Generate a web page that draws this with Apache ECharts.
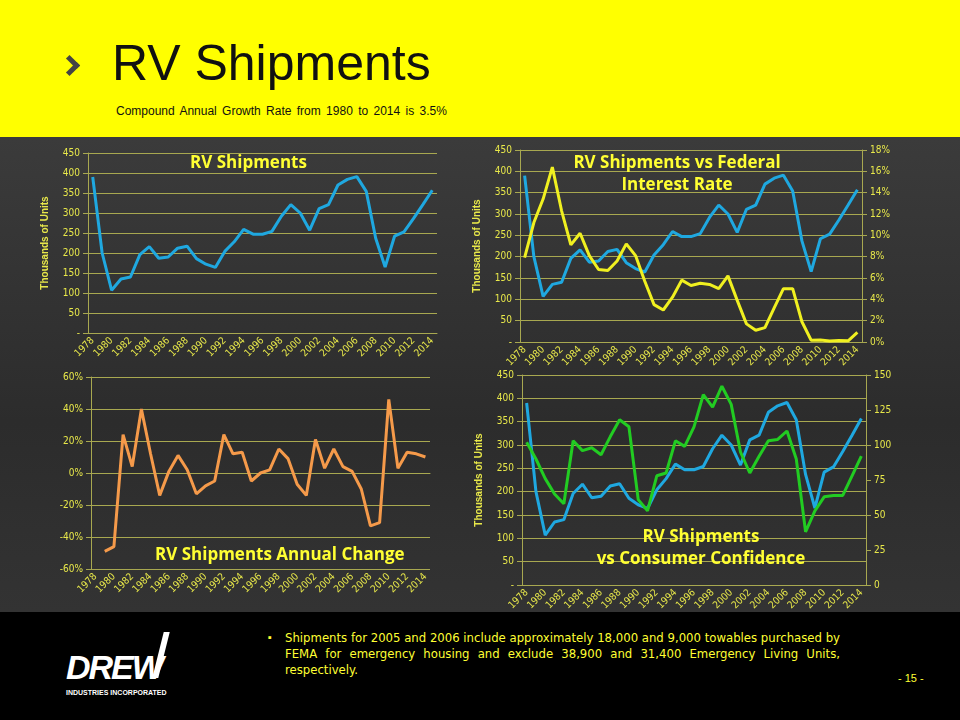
<!DOCTYPE html>
<html><head><meta charset="utf-8">
<script src="https://cdn.jsdelivr.net/npm/echarts@6/dist/echarts.min.js"></script>
<style>
body{margin:0;width:960px;height:720px;overflow:hidden;font-family:"Liberation Sans",Arial,sans-serif;background:#000}
#head{position:absolute;left:0;top:0;width:960px;height:137px;background:#ffff00}
#mid{position:absolute;left:0;top:137px;width:960px;height:475px;background:linear-gradient(#3b3b3b,#2c2c2c 60%,#333)}
#foot{position:absolute;left:0;top:612px;width:960px;height:108px;background:#000}
#chart{position:absolute;left:0;top:0;width:960px;height:720px}
</style></head><body>
<div id="head">
 <div style="position:absolute;left:62px;top:58px;width:10px;height:10px;border-right:5px solid #444;border-top:5px solid #444;transform:rotate(45deg)"></div>
 <div style="position:absolute;left:112px;top:34px;font-size:50px;color:#111">RV Shipments</div>
 <div style="position:absolute;left:116px;top:104px;font-size:12px;color:#111;word-spacing:2px">Compound Annual Growth Rate from 1980 to 2014 is 3.5%</div>
</div>
<div id="mid"></div>
<div id="foot">
 <div style="position:absolute;left:66px;top:36px;font-size:34px;color:#fff;font-weight:900;font-style:italic;letter-spacing:-2px">DREW</div>
 <div style="position:absolute;left:158px;top:20px;width:6px;height:46px;background:#fff;transform:skewX(-14deg)"></div>
 <div style="position:absolute;left:66px;top:77px;font-size:7px;color:#fff;font-weight:bold">INDUSTRIES INCORPORATED</div>
 <div style="position:absolute;left:268px;top:19px;font-size:11px;color:#ffff33">▪</div>
 <div style="position:absolute;left:285px;top:18px;width:555px;font-family:'Liberation Sans Narrow','DejaVu Sans Condensed',sans-serif;font-size:13px;line-height:16px;color:#ffff33;text-align:justify">Shipments for 2005 and 2006 include approximately 18,000 and 9,000 towables purchased by FEMA for emergency housing and exclude 38,900 and 31,400 Emergency Living Units, respectively.</div>
 <div style="position:absolute;left:898px;top:60px;font-size:11px;color:#ffff33">- 15 -</div>
</div>
<div id="chart"></div>
<script>
var years = [];
for (var y = 1978; y <= 2014; y++) years.push(String(y));
var shipments = [390,200,107,135,140,196,216,187,190,212,217,186,172,164,204,228,259,247,247,254,292,321,300,257,311,321,370,384,391,354,237,165,242,253,286,321,357];
var fedRate = [7.9,11.2,13.4,16.4,12.3,9.1,10.2,8.1,6.8,6.7,7.6,9.2,8.1,5.7,3.5,3.0,4.2,5.8,5.3,5.5,5.4,5.0,6.2,3.9,1.7,1.1,1.35,3.2,5.0,5.0,1.9,0.16,0.18,0.1,0.14,0.11,0.9];
var annualChange = [null,-49,-46,24,4,40,12,-14,1,11,2,-13,-8,-5,24,12,13,-5,0,2,15,9,-7,-14,21,3,15,4,1,-10,-33,-31,46,3,13,12,10];
var confidence = [102,90,76,65,58,103,96,98,93,106,118,113,61,53,78,80,103,99,113,136,127,142,129,95,80,92,103,104,110,90,38,53,63,64,64,78,92];

var Y = '#e8e84a', GL = '#a8a850';
var lbl = {color: Y, fontSize: 10, fontFamily: 'DejaVu Sans Condensed, Liberation Sans'};
var grids = [
  {left: 88, right: 960-437, top: 153, height: 180},
  {left: 520, right: 960-862, top: 150, height: 192},
  {left: 91, right: 960-430, top: 377, height: 192},
  {left: 522, right: 960-866, top: 375, height: 210}
];
function xAx(i){
  return {type:'category', gridIndex:i, data:years, boundaryGap:true,
    axisLine:{lineStyle:{color:GL}}, axisTick:{lineStyle:{color:GL}, interval:0},
    axisLabel:Object.assign({rotate:45, interval:1, margin:6}, lbl)};
}
function yAx(i, o){
  return Object.assign({type:'value', gridIndex:i,
    axisLine:{show:true, lineStyle:{color:GL}}, axisTick:{show:true, lineStyle:{color:GL}},
    splitLine:{lineStyle:{color:GL, width:1}}, axisLabel:Object.assign({}, lbl),
    nameTextStyle:{color:Y, fontWeight:'bold', fontSize:10}, nameLocation:'middle', nameGap:38}, o);
}
var shipAxis = function(i, name){
  return yAx(i, {min:0, max:450, interval:50, name:name,
    axisLabel:Object.assign({}, lbl, {formatter:function(v){return v===0?'-':v;}})});
};
function line(x, y, data, color, w){
  return {type:'line', xAxisIndex:x, yAxisIndex:y, data:data, symbol:'none',
    lineStyle:{color:color, width:w||3}, connectNulls:false, silent:true};
}
var tstyle = {color:'#ffff33', fontSize:17, fontWeight:'bold', fontFamily:'Open Sans, Liberation Sans', lineHeight:22};
var chart = echarts.init(document.getElementById('chart'));
chart.setOption({
  animation:false,
  grid:grids,
  title:[
    {text:'RV Shipments', left:185, top:147, textStyle:tstyle},
    {text:'RV Shipments vs Federal\nInterest Rate', left:672, top:147, textAlign:'center', textStyle:Object.assign({},tstyle,{align:'center'})},
    {text:'RV Shipments Annual Change', left:150, top:539, textStyle:tstyle},
    {text:'RV Shipments\nvs Consumer Confidence', left:696, top:521, textAlign:'center', textStyle:Object.assign({},tstyle,{align:'center'})}
  ],
  xAxis:[xAx(0), xAx(1), xAx(2), xAx(3)],
  yAxis:[
    shipAxis(0, 'Thousands of Units'),
    shipAxis(1, 'Thousands of Units'),
    yAx(1, {min:0, max:18, interval:2, position:'right', splitLine:{show:false},
      axisLabel:Object.assign({}, lbl, {formatter:'{value}%'})}),
    yAx(2, {min:-60, max:60, interval:20, axisLabel:Object.assign({}, lbl, {formatter:'{value}%'})}),
    shipAxis(3, 'Thousands of Units'),
    yAx(3, {min:0, max:150, interval:25, position:'right', splitLine:{show:false}})
  ],
  series:[
    line(0, 0, shipments, '#1fa8e0'),
    line(1, 1, shipments, '#1fa8e0'),
    line(1, 2, fedRate, '#f0f020'),
    line(2, 3, annualChange, '#f59a4a'),
    line(3, 4, shipments, '#1fa8e0'),
    line(3, 5, confidence, '#22cc22')
  ]
});
</script>
</body></html>
